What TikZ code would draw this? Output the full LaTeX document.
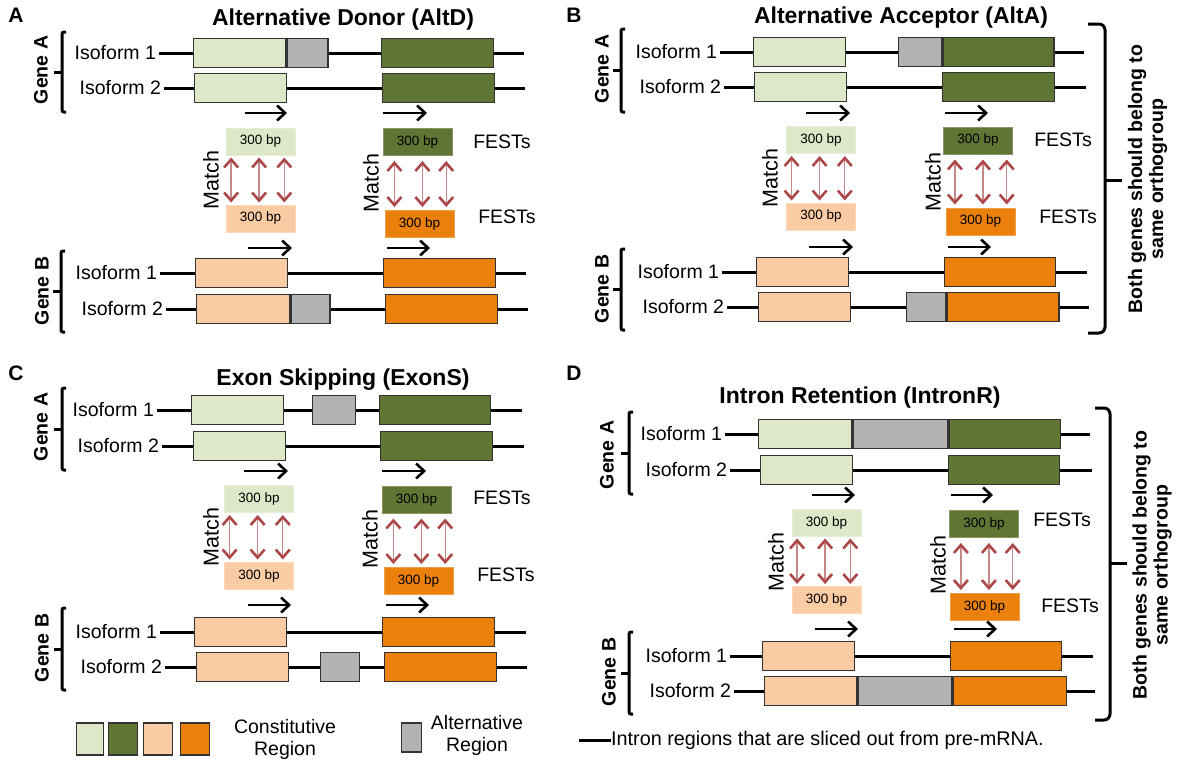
\documentclass[tikz,border=0pt]{standalone}
\usepackage{fontspec}
\setmainfont{Liberation Sans}
\usetikzlibrary{arrows.meta,calc}
\definecolor{lgreen}{RGB}{221,232,201}
\definecolor{dgreen}{RGB}{95,117,52}
\definecolor{lorange}{RGB}{251,204,163}
\definecolor{dorange}{RGB}{235,129,12}
\definecolor{altgray}{RGB}{178,178,178}
\definecolor{matchred}{RGB}{172,72,72}
\tikzset{
  iso/.style={anchor=east, inner sep=0pt, outer sep=3pt, font=\fontsize{19.5}{21}\selectfont},
  exon/.style={draw=black!80, line width=1.3pt, minimum height=29, inner sep=0pt, anchor=west},
  cons/.style={exon, fill=#1},
  alt/.style={exon, fill=altgray},
  intron/.style={line width=3pt},
  fest/.style={fill=#1, draw=#1!75!white, line width=1pt, minimum width=69, minimum height=27, inner sep=0pt, font=\fontsize{13.5}{15}\selectfont},
  festlbl/.style={font=\fontsize{19.5}{21}\selectfont},
  matchlbl/.style={rotate=90, font=\fontsize{21.5}{23}\selectfont},
  genelbl/.style={rotate=90, font=\bfseries\fontsize{19.5}{21}\selectfont},
  paneltitle/.style={font=\bfseries\fontsize{23}{25}\selectfont},
  panelletter/.style={font=\bfseries\fontsize{21}{23}\selectfont},
  readarrow/.style={line width=2.6pt, -{Straight Barb[length=8pt,width=15pt,line width=2.6pt]}},
  matcharrow/.style={draw=matchred!65!white, line width=1.3pt,
    {Straight Barb[length=8pt,width=14pt,line width=2.6pt,color=matchred]}-{Straight Barb[length=8pt,width=14pt,line width=2.6pt,color=matchred]}},
  genebrace/.style={line width=3pt, rounded corners=2pt},
  orthobrace/.style={line width=3pt, rounded corners=6pt},
  legend/.style={font=\fontsize{19.5}{22}\selectfont, align=center}
}
\begin{document}
\begin{tikzpicture}[x=1pt,y=-1pt]
\useasboundingbox (0,0) rectangle (1182,769);

\node[panelletter] (la) at (16,15) {A};
\node[paneltitle] (ta) at (343,20) {Alternative Donor (AltD)};
\node[iso] (a1) at (159,53) {Isoform 1};
\node[cons=lgreen, minimum width=92] (a1l) at (193,53) {};
\node[alt, minimum width=41] (a1g) at (a1l.east) {};
\node[cons=dgreen, minimum width=112] (a1r) at (381,53) {};
\coordinate (a1e) at (524,53);
\draw[intron] (a1) -- (a1l) (a1g) -- (a1r) (a1r) -- (a1e);
\node[iso] (a2) at (164,88) {Isoform 2};
\node[cons=lgreen, minimum width=92] (a2l) at (194,88) {};
\node[cons=dgreen, minimum width=112] (a2r) at (382,88) {};
\coordinate (a2e) at (525,88);
\draw[intron] (a2) -- (a2l) (a2l) -- (a2r) (a2r) -- (a2e);
\node[iso] (a3) at (160,273) {Isoform 1};
\node[cons=lorange, minimum width=92] (a3l) at (195,273) {};
\node[cons=dorange, minimum width=112] (a3r) at (383,273) {};
\coordinate (a3e) at (526,273);
\draw[intron] (a3) -- (a3l) (a3l) -- (a3r) (a3r) -- (a3e);
\node[iso] (a4) at (166,309) {Isoform 2};
\node[cons=lorange, minimum width=93] (a4l) at (196,309) {};
\node[alt, minimum width=39] (a4g) at (a4l.east) {};
\node[cons=dorange, minimum width=112] (a4r) at (385,309) {};
\coordinate (a4e) at (528,309);
\draw[intron] (a4) -- (a4l) (a4g) -- (a4r) (a4r) -- (a4e);
\node[fest=lgreen] (fa1) at (260.5,141.5) {300 bp};
\node[fest=dgreen] (fa2) at (417.5,142) {300 bp};
\node[fest=lorange] (fa3) at (260.5,218.5) {300 bp};
\node[fest=dorange] (fa4) at (419.5,224) {300 bp};
\node[festlbl] (fla1) at (502,142) {FESTs};
\node[festlbl] (fla2) at (507,217) {FESTs};
\node[matchlbl] (ma1) at (211,180) {Match};
\node[matchlbl] (ma2) at (371,183) {Match};
\draw[readarrow] (245,113) -- (287,113);
\draw[readarrow] (383,113) -- (427,113);
\draw[readarrow] (248,248) -- (292,248);
\draw[readarrow] (387,248) -- (430,248);

\node[panelletter] (lb) at (574,15) {B};
\node[paneltitle] (tb) at (901,18) {Alternative Acceptor (AltA)};
\node[iso] (b1) at (720,52) {Isoform 1};
\node[cons=lgreen, minimum width=92] (b1l) at (753,52) {};
\node[alt, minimum width=43] (b1g) at (898,52) {};
\node[cons=dgreen, minimum width=111] (b1r) at (b1g.east) {};
\coordinate (b1e) at (1084,52);
\draw[intron] (b1) -- (b1l) (b1l) -- (b1g) (b1r) -- (b1e);
\node[iso] (b2) at (724,87) {Isoform 2};
\node[cons=lgreen, minimum width=92] (b2l) at (754,87) {};
\node[cons=dgreen, minimum width=112] (b2r) at (942,87) {};
\coordinate (b2e) at (1086,87);
\draw[intron] (b2) -- (b2l) (b2l) -- (b2r) (b2r) -- (b2e);
\node[iso] (b3) at (722,272) {Isoform 1};
\node[cons=lorange, minimum width=92] (b3l) at (756,272) {};
\node[cons=dorange, minimum width=111] (b3r) at (944,272) {};
\coordinate (b3e) at (1087,272);
\draw[intron] (b3) -- (b3l) (b3l) -- (b3r) (b3r) -- (b3e);
\node[iso] (b4) at (727,307) {Isoform 2};
\node[cons=lorange, minimum width=92] (b4l) at (758,307) {};
\node[alt, minimum width=39] (b4g) at (906,307) {};
\node[cons=dorange, minimum width=112] (b4r) at (b4g.east) {};
\coordinate (b4e) at (1089,307);
\draw[intron] (b4) -- (b4l) (b4l) -- (b4g) (b4r) -- (b4e);
\node[fest=lgreen] (fb1) at (821,140) {300 bp};
\node[fest=dgreen] (fb2) at (978,140.5) {300 bp};
\node[fest=lorange] (fb3) at (821,216.5) {300 bp};
\node[fest=dorange] (fb4) at (980.5,221.5) {300 bp};
\node[festlbl] (flb1) at (1063,140) {FESTs};
\node[festlbl] (flb2) at (1068,217) {FESTs};
\node[matchlbl] (mb1) at (770,178) {Match};
\node[matchlbl] (mb2) at (933,182) {Match};
\draw[readarrow] (806,113) -- (850,113);
\draw[readarrow] (945,113) -- (988,113);
\draw[readarrow] (809,247) -- (853,247);
\draw[readarrow] (948,247) -- (991,247);
\draw[orthobrace] (1088,24) -- (1105,24) -- (1105,333) -- (1088,333);
\draw[line width=3pt] (1105,180) -- (1122,180);
\node[genelbl, align=center, font=\bfseries\fontsize{19.5}{21}\selectfont] (ob) at (1147.5,179) {Both genes should belong to\\same orthogroup};

\node[panelletter] (lc) at (16,373) {C};
\node[paneltitle] (tc) at (343,380) {Exon Skipping (ExonS)};
\node[iso] (c1) at (157,410) {Isoform 1};
\node[cons=lgreen, minimum width=92] (c1l) at (191,410) {};
\node[alt, minimum width=43] (c1g) at (312,410) {};
\node[cons=dgreen, minimum width=111] (c1r) at (379,410) {};
\coordinate (c1e) at (522,410);
\draw[intron] (c1) -- (c1l) (c1l) -- (c1g) (c1g) -- (c1r) (c1r) -- (c1e);
\node[iso] (c2) at (162,446) {Isoform 2};
\node[cons=lgreen, minimum width=92] (c2l) at (193,446) {};
\node[cons=dgreen, minimum width=112] (c2r) at (380,446) {};
\coordinate (c2e) at (524,446);
\draw[intron] (c2) -- (c2l) (c2l) -- (c2r) (c2r) -- (c2e);
\node[iso] (c3) at (160,632) {Isoform 1};
\node[cons=lorange, minimum width=92] (c3l) at (194,632) {};
\node[cons=dorange, minimum width=112] (c3r) at (382,632) {};
\coordinate (c3e) at (526,632);
\draw[intron] (c3) -- (c3l) (c3l) -- (c3r) (c3r) -- (c3e);
\node[iso] (c4) at (165,667) {Isoform 2};
\node[cons=lorange, minimum width=92] (c4l) at (196,667) {};
\node[alt, minimum width=39] (c4g) at (320,667) {};
\node[cons=dorange, minimum width=112] (c4r) at (384,667) {};
\coordinate (c4e) at (527,667);
\draw[intron] (c4) -- (c4l) (c4l) -- (c4g) (c4g) -- (c4r) (c4r) -- (c4e);
\node[fest=lgreen] (fc1) at (259,499) {300 bp};
\node[fest=dgreen] (fc2) at (416.5,499.5) {300 bp};
\node[fest=lorange] (fc3) at (259,575.5) {300 bp};
\node[fest=dorange] (fc4) at (418.5,581) {300 bp};
\node[festlbl] (flc1) at (502,498) {FESTs};
\node[festlbl] (flc2) at (506,575) {FESTs};
\node[matchlbl] (mc1) at (211,537) {Match};
\node[matchlbl] (mc2) at (370,539) {Match};
\draw[readarrow] (244,471) -- (288,471);
\draw[readarrow] (382,471) -- (426,471);
\draw[readarrow] (248,605) -- (291,605);
\draw[readarrow] (386,605) -- (429,605);

\node[panelletter] (ld) at (574,373) {D};
\node[paneltitle] (td) at (860,398) {Intron Retention (IntronR)};
\node[iso] (d1) at (725,434) {Isoform 1};
\node[cons=lgreen, minimum width=93] (d1l) at (758,434) {};
\node[alt, minimum width=95] (d1g) at (d1l.east) {};
\node[cons=dgreen, minimum width=111] (d1r) at (d1g.east) {};
\coordinate (d1e) at (1090,434);
\draw[intron] (d1) -- (d1l) (d1r) -- (d1e);
\node[iso] (d2) at (730,470) {Isoform 2};
\node[cons=lgreen, minimum width=92] (d2l) at (760,470) {};
\node[cons=dgreen, minimum width=111] (d2r) at (948,470) {};
\coordinate (d2e) at (1092,470);
\draw[intron] (d2) -- (d2l) (d2l) -- (d2r) (d2r) -- (d2e);
\node[iso] (d3) at (730,656) {Isoform 1};
\node[cons=lorange, minimum width=92] (d3l) at (762,656) {};
\node[cons=dorange, minimum width=111] (d3r) at (950,656) {};
\coordinate (d3e) at (1093,656);
\draw[intron] (d3) -- (d3l) (d3l) -- (d3r) (d3r) -- (d3e);
\node[iso] (d4) at (734,691) {Isoform 2};
\node[cons=lorange, minimum width=92] (d4l) at (764,691) {};
\node[alt, minimum width=94] (d4g) at (d4l.east) {};
\node[cons=dorange, minimum width=113] (d4r) at (d4g.east) {};
\coordinate (d4e) at (1095,691);
\draw[intron] (d4) -- (d4l) (d4r) -- (d4e);
\node[fest=lgreen] (fd1) at (826.5,522.5) {300 bp};
\node[fest=dgreen] (fd2) at (984,524) {300 bp};
\node[fest=lorange] (fd3) at (826.5,600) {300 bp};
\node[fest=dorange] (fd4) at (984.5,607) {300 bp};
\node[festlbl] (fld1) at (1062,520) {FESTs};
\node[festlbl] (fld2) at (1070,606) {FESTs};
\node[matchlbl] (md1) at (776,562) {Match};
\node[matchlbl] (md2) at (938,565) {Match};
\draw[readarrow] (812,495) -- (855,495);
\draw[readarrow] (951,495) -- (993,495);
\draw[readarrow] (815,629) -- (858,629);
\draw[readarrow] (954,629) -- (997,629);
\draw[orthobrace] (1095,408) -- (1110,408) -- (1110,720) -- (1095,720);
\draw[line width=3pt] (1110,563) -- (1127,563);
\node[genelbl, align=center, font=\bfseries\fontsize{19.5}{21}\selectfont] (od) at (1152,565) {Both genes should belong to\\same orthogroup};

\foreach \t/\b in {fa1/fa3, fb1/fb3, fc1/fc3, fd1/fd3}
  \foreach \f in {0.08,0.48,0.84}
    \draw[matcharrow, shorten <=2pt, shorten >=2pt] ($(\t.south west)!\f!(\t.south east)$) coordinate (m) -- (m |- \b.north);
\foreach \t/\b in {fa2/fa4, fb2/fb4, fc2/fc4, fd2/fd4}
  \foreach \f in {0.17,0.57,0.91}
    \draw[matcharrow, shorten <=5pt, shorten >=3pt] ($(\t.south west)!\f!(\t.south east)$) coordinate (m) -- (m |- \b.north);

\foreach \x/\t/\b in {62/32/112, 61/251/332, 62/388/470, 62/608/690, 621/29/112, 621/249/330, 629/412/494, 629/632/714} {
  \draw[genebrace] (\x+4,\t) -- (\x,\t) -- (\x,\b) -- (\x+4,\b);
  \draw[line width=3pt] (\x,{(\t+\b)/2}) -- (\x-8,{(\t+\b)/2});
}
\node[genelbl] (ga1) at (41,70) {Gene A};
\node[genelbl] (gb1) at (42,291) {Gene B};
\node[genelbl] (ga2) at (602,69) {Gene A};
\node[genelbl] (gb2) at (602,289) {Gene B};
\node[genelbl] (ga3) at (41,427) {Gene A};
\node[genelbl] (gb3) at (42,648) {Gene B};
\node[genelbl] (ga4) at (607,455) {Gene A};
\node[genelbl] (gb4) at (609,672) {Gene B};

\node[cons=lgreen, minimum width=27, minimum height=32] (k1) at (76,739) {};
\node[cons=dgreen, minimum width=29, minimum height=32] (k2) at (108,739) {};
\node[cons=lorange, minimum width=29, minimum height=32] (k3) at (143,739) {};
\node[cons=dorange, minimum width=29, minimum height=32] (k4) at (180,739) {};
\node[legend] (kc) at (285,739) {Constitutive\\Region};
\node[alt, minimum width=20, minimum height=29] (k5) at (401,737.5) {};
\node[legend] (ka) at (477,735) {Alternative\\Region};
\node[anchor=west, inner sep=0pt, font=\fontsize{19.8}{21}\selectfont] (ki) at (611,740) {Intron regions that are sliced out from pre-mRNA.};
\coordinate (ki0) at (579,740);
\draw[intron] (ki0) -- (ki);
\end{tikzpicture}
\end{document}
